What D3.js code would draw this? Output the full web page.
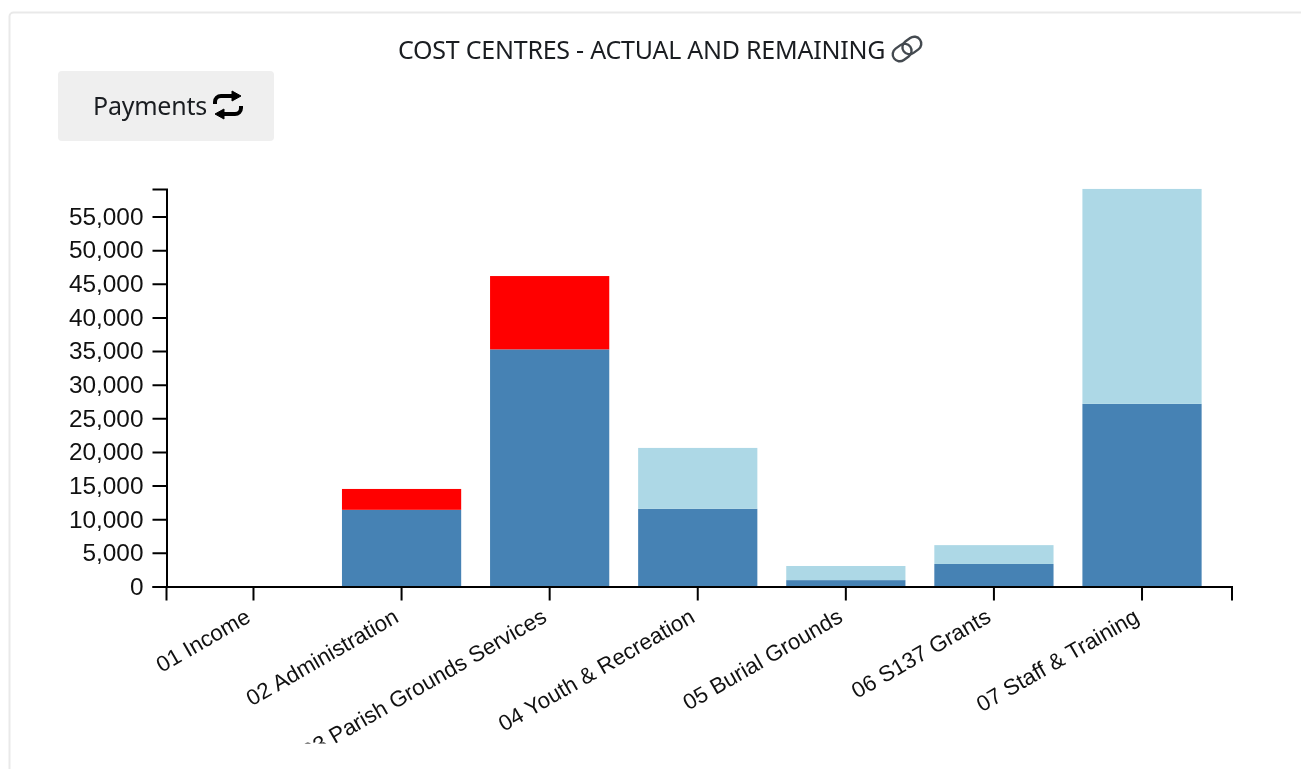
<!DOCTYPE html>
<html><head><meta charset="utf-8">
<script src="https://cdn.jsdelivr.net/npm/d3@7/dist/d3.min.js"></script>
<style>
html,body{margin:0;padding:0;background:#fff;overflow:hidden}
svg{display:block;filter:blur(0.45px)}
.uifont{font-family:"Noto Sans",sans-serif;fill:#1a1d21;letter-spacing:-0.24px}
.axis text{font-family:"Liberation Sans",Arial,sans-serif;fill:#111}
.axis path,.axis line{stroke:#000;stroke-width:2;fill:none}
</style></head><body>
<svg id="c" width="1301" height="769"></svg>
<script>
const categories=["01 Income","02 Administration","03 Parish Grounds Services","04 Youth & Recreation","05 Burial Grounds","06 S137 Grants","07 Staff & Training"];
const actual=[0,11400,35250,11550,950,3350,27150];
const remaining=[0,0,0,9050,2100,2800,31950];
const overspend=[0,3100,10900,0,0,0,0];
const yTicks=[0,5000,10000,15000,20000,25000,30000,35000,40000,45000,50000,55000];
const titleText="COST CENTRES - ACTUAL AND REMAINING";
const buttonText="Payments";

const svg=d3.select("#c");
// card
svg.append("rect").attr("x",9.5).attr("y",12.5).attr("width",1400).attr("height",900).attr("rx",4)
  .attr("fill","#fff").attr("stroke","#e9e9e9").attr("stroke-width",2);
// title
svg.append("text").attr("class","uifont").attr("id","title").attr("x",398).attr("y",59).attr("font-size",25).text(titleText);
// link icon
const link=svg.append("g").attr("transform","translate(907,49) rotate(-36)").attr("fill","none").attr("stroke","#444a50").attr("stroke-width",2.4);
link.append("rect").attr("x",-16).attr("y",-7).attr("width",20).attr("height",14).attr("rx",7);
link.append("rect").attr("x",-4).attr("y",-7).attr("width",20).attr("height",14).attr("rx",7);
// button
svg.append("rect").attr("x",58).attr("y",71).attr("width",216).attr("height",70).attr("rx",4).attr("fill","#efefef");
svg.append("text").attr("class","uifont").attr("id","btn").attr("x",93).attr("y",115).attr("font-size",25).text(buttonText);
const icon=svg.append("g").attr("fill","none").attr("stroke","#000").attr("stroke-width",4);
icon.append("path").attr("d","M215 104 v-2 a6 6 0 0 1 6 -6 h12");
icon.append("path").attr("d","M241 106 v2 a6 6 0 0 1 -6 6 h-12");
svg.append("path").attr("d","M232 91 l9 5 l-9 5 z M224 109 l-9 5 l9 5 z").attr("fill","#000").attr("stroke","#000").attr("stroke-width",1);

// chart
const x=d3.scaleBand().domain(categories).range([166,1231.5]).padding(0.195);
const y=d3.scaleLinear().domain([0,59090]).range([586.5,189]);
svg.append("defs").append("clipPath").attr("id","clip").append("rect").attr("x",0).attr("y",0).attr("width",1301).attr("height",743.5);
const plot=svg.append("g").attr("clip-path","url(#clip)");

const rows=categories.map((c,i)=>({c,actual:actual[i],remaining:remaining[i],overspend:overspend[i]}));
const stack=d3.stack().keys(["actual","remaining","overspend"])(rows);
const colors={actual:"#4682b4",remaining:"#add8e6",overspend:"#ff0000"};
plot.selectAll("g.s").data(stack).join("g").attr("class","s").attr("fill",d=>colors[d.key])
  .selectAll("rect").data(d=>d).join("rect")
  .attr("x",d=>x(d.data.c)-1).attr("width",x.bandwidth())
  .attr("y",d=>y(d[1])).attr("height",d=>y(d[0])-y(d[1]));

const gx=plot.append("g").attr("class","axis").attr("transform","translate(0,586.5)")
  .call(d3.axisBottom(x).tickSize(14).tickSizeOuter(14));
gx.selectAll("line").attr("transform","translate(-1,0)");
gx.selectAll("text").attr("font-size",22.3).attr("text-anchor","end")
  .attr("transform","translate(-15,13) rotate(-30)").attr("x",0).attr("y",9).attr("dy","0.71em");
const gy=plot.append("g").attr("class","axis").attr("transform","translate(166.5,0)")
  .call(d3.axisLeft(y).tickValues(yTicks).tickFormat(d3.format(",")).tickSize(14).tickSizeOuter(14));
gy.selectAll("text").attr("font-size",24.4).attr("x",-23);
</script></body></html>
